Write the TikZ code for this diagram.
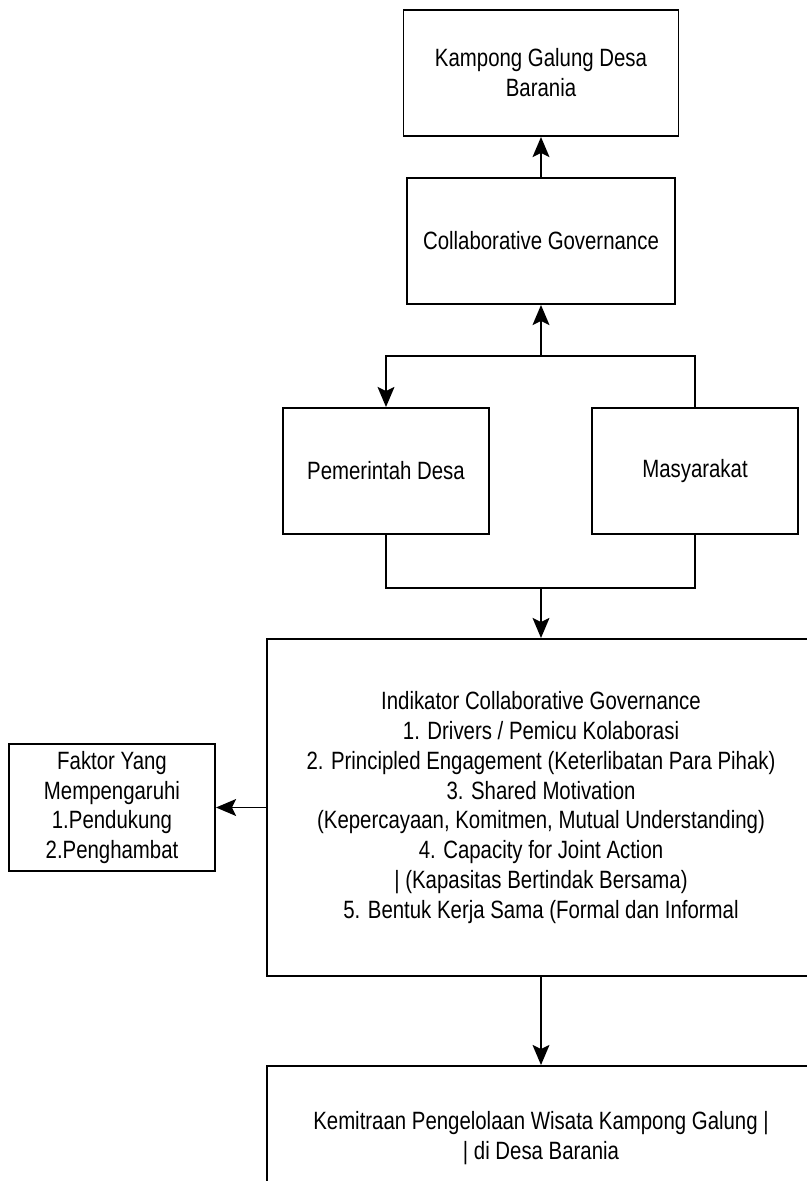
\documentclass[tikz,border=0pt]{standalone}
\usepackage{fontspec}
\setmainfont[FakeStretch=0.815]{Liberation Sans}
\usepackage{xcolor}
\usepackage{tikz}
\usetikzlibrary{arrows.meta}

\tikzset{
  kotak/.style={draw, line width=1.4pt, align=center, inner sep=0pt,
    font=\fontsize{17.8}{21.3}\selectfont},
  panah/.style={-{Stealth[length=5mm,width=4.2mm,inset=1mm]}},
}

\begin{document}
\begin{tikzpicture}[line width=1.4pt]
            \useasboundingbox (0,0) rectangle (20.175,-29.525);
            \clip (0,0) rectangle (20.175,-29.525);
            \node (kampong) [kotak, minimum width=6.875cm, minimum height=3.15cm] at (13.525,-1.825) {Kampong Galung Desa\\Barania};
            \node (collab) [kotak, minimum width=6.7cm, minimum height=3.15cm] at (13.525,-6.025) {Collaborative Governance};
            \node (pemdes) [kotak, minimum width=5.15cm, minimum height=3.15cm] at (9.65,-11.775) {Pemerintah Desa};
            \node (masyarakat) [kotak, minimum width=5.15cm, minimum height=3.15cm] at (17.375,-11.775) {Masyarakat};
            \node (indikator) [kotak, minimum width=13.7cm, minimum height=8.425cm] at (13.525,-20.1875) {Indikator Collaborative Governance\\
              1. Drivers / Pemicu Kolaborasi\\
              2. Principled Engagement (Keterlibatan Para Pihak)\\
              3. Shared Motivation\\
              (Kepercayaan, Komitmen, Mutual Understanding)\\
              4. Capacity for Joint Action\\
              | (Kapasitas Bertindak Bersama)\\
              5. Bentuk Kerja Sama (Formal dan Informal};
            \node (faktor) [kotak, minimum width=5.15cm, minimum height=3.175cm] at (2.8,-20.1875) {Faktor Yang\\Mempengaruhi\\1.Pendukung\\2.Penghambat};
            \node (kemitraan) [kotak, minimum width=13.7cm, minimum height=3.6cm] at (13.525,-28.45) {Kemitraan Pengelolaan Wisata Kampong Galung |\\| di Desa Barania};
            \coordinate (atas) at (13.525,-8.9);
            \coordinate (bawah) at (13.525,-14.7);
            \draw [panah] (collab) -- (kampong);
            \draw [panah] (atas) -- (collab);
            \draw [panah] (masyarakat.north) |- (atas) -| (pemdes.north);
            \draw (pemdes.south) |- (bawah) -| (masyarakat.south);
            \draw [panah] (bawah) -- (indikator);
            \draw [panah] (indikator) -- (faktor);
            \draw [panah] (indikator) -- (kemitraan);
        \end{tikzpicture}
\end{document}
